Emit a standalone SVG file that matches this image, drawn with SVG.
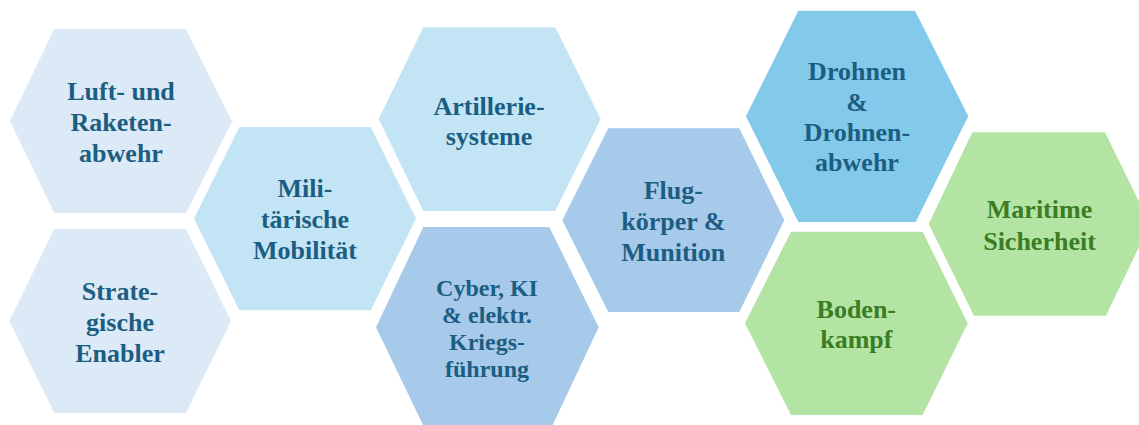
<svg xmlns="http://www.w3.org/2000/svg" width="1139" height="425" viewBox="0 0 1139 425">
<style>
.t{font-family:"Liberation Serif","Times New Roman",serif;font-weight:bold;font-size:26px;text-anchor:middle;fill:#1B5E82}
.s{font-size:24px}
.g{fill:#3A7D24}
.c1{fill:#DCE9F6}
.c2{fill:#C2E4F4}
.c3{fill:#A7C9EA}
.c4{fill:#83CAEA}
.c5{fill:#B4E4A4}
</style>
<rect width="1139" height="425" fill="#FFFFFF"/>
<g id="luft">
<polygon class="c1" points="10,121 54.3,29 186,29 232,121 186,213 54.3,213"/>
<text class="t" x="121" y="100">Luft- und</text>
<text class="t" x="121" y="131">Raketen-</text>
<text class="t" x="121" y="162">abwehr</text>
</g>
<g id="strategische">
<polygon class="c1" points="9.3,321 54.3,229 186,229 231,321 186,413 54.3,413"/>
<text class="t" x="120" y="300">Strate-</text>
<text class="t" x="120" y="331">gische</text>
<text class="t" x="120" y="362">Enabler</text>
</g>
<g id="mobilitaet">
<polygon class="c2" points="194,218.5 239.3,127 370.7,127 416,218.5 370.7,310.3 239.3,310.3"/>
<text class="t" x="305" y="197">Mili-</text>
<text class="t" x="305" y="228">tärische</text>
<text class="t" x="305" y="259">Mobilität</text>
</g>
<g id="artillerie">
<polygon class="c2" points="378.7,119 423.3,27.3 555.3,27.3 600.7,119 555.3,211 423.3,211"/>
<text class="t" x="489" y="115">Artillerie-</text>
<text class="t" x="489" y="145">systeme</text>
</g>
<g id="cyber">
<polygon class="c3" points="376,327.3 423.3,227 549.3,227 598.7,327.3 551.7,427 424,427"/>
<text class="t s" x="487" y="296">Cyber, KI</text>
<text class="t s" x="487" y="323">&amp; elektr.</text>
<text class="t s" x="487" y="350">Kriegs-</text>
<text class="t s" x="487" y="377">führung</text>
</g>
<g id="flugkoerper">
<polygon class="c3" points="562.3,220.3 608.3,128.3 739.3,128.3 784.3,220.3 739.3,312 608.3,312"/>
<text class="t" x="673.3" y="199">Flug-</text>
<text class="t" x="673.3" y="230">körper &amp;</text>
<text class="t" x="673.3" y="261">Munition</text>
</g>
<g id="drohnen">
<polygon class="c4" points="746,116.3 798.3,10.7 915,10.7 968.3,116.3 915.7,222 798.3,222"/>
<text class="t" x="857" y="80">Drohnen</text>
<text class="t" x="857" y="110.5">&amp;</text>
<text class="t" x="857" y="140.5">Drohnen-</text>
<text class="t" x="857" y="171">abwehr</text>
</g>
<g id="maritime">
<polygon class="c5" points="928.7,224 972.3,132.3 1105,132.3 1150,224 1106,315.7 974,315.7"/>
<text class="t g" x="1039.5" y="218">Maritime</text>
<text class="t g" x="1039.5" y="249.5">Sicherheit</text>
</g>
<g id="bodenkampf">
<polygon class="c5" points="745,323.3 791,231.7 922.7,231.7 967.7,323.3 922.7,415 791,415"/>
<text class="t g" x="856.3" y="318.3">Boden-</text>
<text class="t g" x="856.3" y="348.3">kampf</text>
</g>
<g id="connectors"/>
</svg>
